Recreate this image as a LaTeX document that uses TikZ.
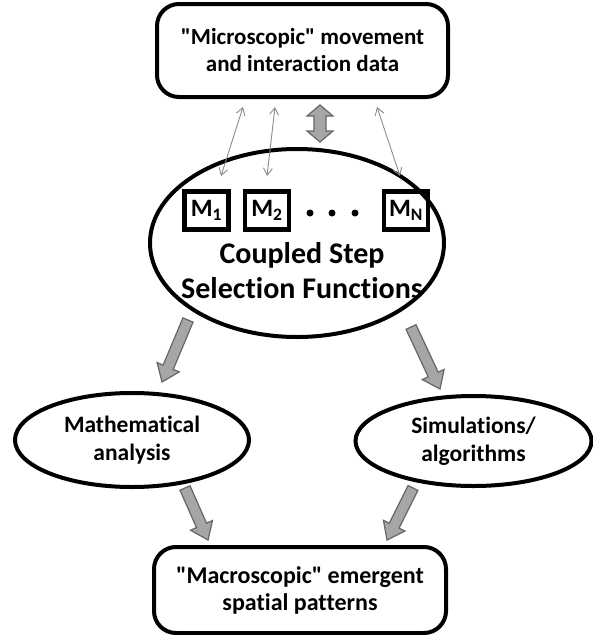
\documentclass[tikz,border=0pt]{standalone}
\usepackage{fontspec}
\setmainfont{Carlito}[Ligatures={TeXOff,NoCommon}]
\usetikzlibrary{shapes.geometric,arrows.meta,calc}
\definecolor{arrfill}{HTML}{A6A6A6}
\definecolor{arredge}{HTML}{666666}
\definecolor{thinarr}{HTML}{8A8A8A}
\tikzset{
  box/.style={draw=black, line width=4pt, rounded corners=22pt, align=center, inner sep=0pt,
    font=\bfseries\fontsize{24}{27}\selectfont},
  oval/.style={ellipse, draw=black, line width=4pt, inner sep=0pt, align=center},
  ovaltext/.style={align=center, font=\bfseries\fontsize{23.5}{27.5}\selectfont},
  mbox/.style={draw=black, line width=4.5pt, minimum width=44pt, minimum height=38pt, inner sep=0pt,
    font=\bfseries\fontsize{25}{28}\selectfont},
  blockarr/.style={fill=arrfill, draw=arredge, line width=1.2pt, line join=miter},
  thinarrow/.style={draw=thinarr, line width=0.9pt, {Straight Barb[length=7pt,width=9pt]}-{Straight Barb[length=7pt,width=9pt]}},
  dot/.style={circle, fill=black, inner sep=0pt, minimum size=7pt}
}
\newcommand{\blockarrow}[2]{%
  \coordinate (hb) at ($(#2)!16pt!(#1)$);
  \filldraw[blockarr] ($(#1)!5.5pt!90:(#2)$) -- ($(hb)!5.5pt!90:(#2)$) -- ($(hb)!12pt!90:(#2)$) -- (#2)
    -- ($(hb)!12pt!-90:(#2)$) -- ($(hb)!5.5pt!-90:(#2)$) -- ($(#1)!5.5pt!-90:(#2)$) -- cycle;
}
\newcommand{\dblarrow}[2]{%
  \coordinate (ha) at ($(#1)!11pt!(#2)$);
  \coordinate (hb) at ($(#2)!11pt!(#1)$);
  \filldraw[blockarr] (#1) -- ($(ha)!13pt!90:(#2)$) -- ($(ha)!6pt!90:(#2)$) -- ($(hb)!6pt!90:(#2)$)
    -- ($(hb)!13pt!90:(#2)$) -- (#2) -- ($(hb)!13pt!-90:(#2)$) -- ($(hb)!6pt!-90:(#2)$)
    -- ($(ha)!6pt!-90:(#2)$) -- ($(ha)!13pt!-90:(#2)$) -- cycle;
}
\begin{document}
\begin{tikzpicture}[x=1pt,y=-1pt]
\useasboundingbox (0,0) rectangle (593,635);
% top box
\node[box, minimum width=291pt, minimum height=93pt, font=\bfseries\fontsize{23}{27}\selectfont] (top) at (302.5,50.5)
  {\char34Microscopic\char34{} movement\\and interaction data};
% central ellipse
\node[oval, minimum width=294pt, minimum height=188pt] (cs) at (297,243) {};
\node[ovaltext, font=\bfseries\fontsize{30}{35}\selectfont] (cstext) at (302,271) {Coupled Step\\Selection Functions};
\node[mbox] (m1) at (206.5,210.5) {M\textsubscript{1}};
\node[mbox] (m2) at (267,210.5) {M\textsubscript{2}};
\node[mbox] (mn) at (406,210.5) {M\textsubscript{N}};
\node[dot] (d1) at (310,213) {};
\node[dot] (d2) at (332,213) {};
\node[dot] (d3) at (355,213) {};
% lower ellipses
\node[oval, minimum width=234pt, minimum height=94pt, ovaltext] (math) at (132,440)
  {Mathematical\\analysis};
\node[oval, minimum width=236pt, minimum height=90pt, ovaltext] (sim) at (473.5,441)
  {Simulations/\\algorithms};
% bottom box
\node[box, minimum width=292pt, minimum height=86pt] (bot) at (300,590)
  {\char34Macroscopic\char34{} emergent\\spatial patterns};
% thin arrows
\coordinate (t1) at (243,107);
\coordinate (b1) at (221,176);
\coordinate (t2) at (275,107);
\coordinate (b2) at (267,176);
\coordinate (t3) at (377,107);
\coordinate (b3) at (400,176);
\draw[thinarrow] (t1) -- (b1);
\draw[thinarrow] (t2) -- (b2);
\draw[thinarrow] (t3) -- (b3);
% thick double arrow
\coordinate (da) at (320,105);
\coordinate (db) at (320,142);
\dblarrow{da}{db}
% block arrows
\coordinate (s1) at (188,320);
\coordinate (e1) at (162,382);
\coordinate (s2) at (411,327);
\coordinate (e2) at (440,389);
\coordinate (s3) at (185,488);
\coordinate (e3) at (208,540);
\coordinate (s4) at (413,488);
\coordinate (e4) at (387,540);
\blockarrow{s1}{e1}
\blockarrow{s2}{e2}
\blockarrow{s3}{e3}
\blockarrow{s4}{e4}
\end{tikzpicture}
\end{document}
